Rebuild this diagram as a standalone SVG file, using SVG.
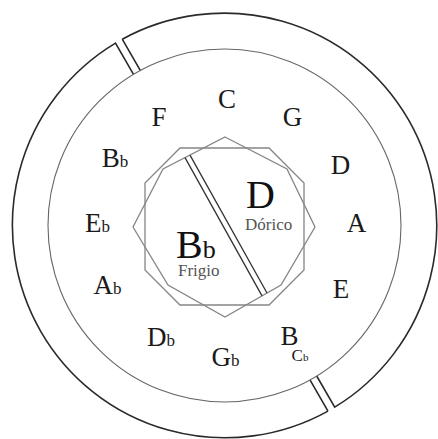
<svg xmlns="http://www.w3.org/2000/svg" width="438" height="439" viewBox="0 0 438 439">
<style>
.ring{fill:none;stroke:#2a2a2a;stroke-width:1.6}
.inner{fill:none;stroke:#666;stroke-width:1.1}
.poly{fill:none;stroke:#858585;stroke-width:1.3}
.div{fill:none;stroke:#333;stroke-width:1.3}
.note{font-family:"Liberation Serif","Times New Roman",serif;font-size:27px;fill:#1a1a1a;text-anchor:middle}
.fl{font-size:17px}
.big{font-family:"Liberation Serif","Times New Roman",serif;font-size:40px;fill:#111}
.mode{font-family:"Liberation Serif","Times New Roman",serif;font-size:17px;fill:#555}
</style>
<rect width="438" height="439" fill="#fff"/>
<g id="connectors">
<path class="ring" d="M122.26 39.22 A212.5 212.5 0 0 1 334.71 407.18 L316.70 376.00 M327.97 411.10 A212.5 212.5 0 0 1 115.49 43.10 L133.49 74.28 M140.26 70.40 L122.26 39.22 M309.97 379.92 L327.97 411.10"/>
<circle class="inner" cx="224.5" cy="225.5" r="176.5"/>
<polygon class="poly" points="180,148 269,148 304,183 304,270 269,305 180,305 145,270 145,183"/>
<polygon class="poly" points="225,137 287,169 315,227 281,285 225,317 168,285 133,227 163,169"/>
<path class="div" d="M185 157.6 L262 295.9 M190 155.1 L267 293"/>
</g>
<g id="notes">
<g id="n-C"><text class="note" x="227" y="108">C</text></g>
<g id="n-G"><text class="note" x="292.5" y="126">G</text></g>
<g id="n-D"><text class="note" x="340.5" y="174">D</text></g>
<g id="n-A"><text class="note" x="356.5" y="232">A</text></g>
<g id="n-E"><text class="note" x="341" y="298">E</text></g>
<g id="n-B"><text class="note" x="289.5" y="345">B</text><text class="note fl" x="300" y="361">C<tspan font-size="11">b</tspan></text></g>
<g id="n-Gb"><text class="note" x="225.5" y="366">G<tspan class="fl">b</tspan></text></g>
<g id="n-Db"><text class="note" x="161" y="346">D<tspan class="fl">b</tspan></text></g>
<g id="n-Ab"><text class="note" x="107.5" y="294">A<tspan class="fl">b</tspan></text></g>
<g id="n-Eb"><text class="note" x="97.5" y="232">E<tspan class="fl">b</tspan></text></g>
<g id="n-Bb"><text class="note" x="115" y="167">B<tspan class="fl">b</tspan></text></g>
<g id="n-F"><text class="note" x="159" y="126">F</text></g>
</g>
<g id="center-D"><text class="big" x="246" y="208">D</text><text class="mode" x="245" y="230">Dórico</text></g>
<g id="center-Bb"><text class="big" x="176" y="258">B<tspan font-size="26">b</tspan></text><text class="mode" x="178" y="276">Frigio</text></g>
</svg>
